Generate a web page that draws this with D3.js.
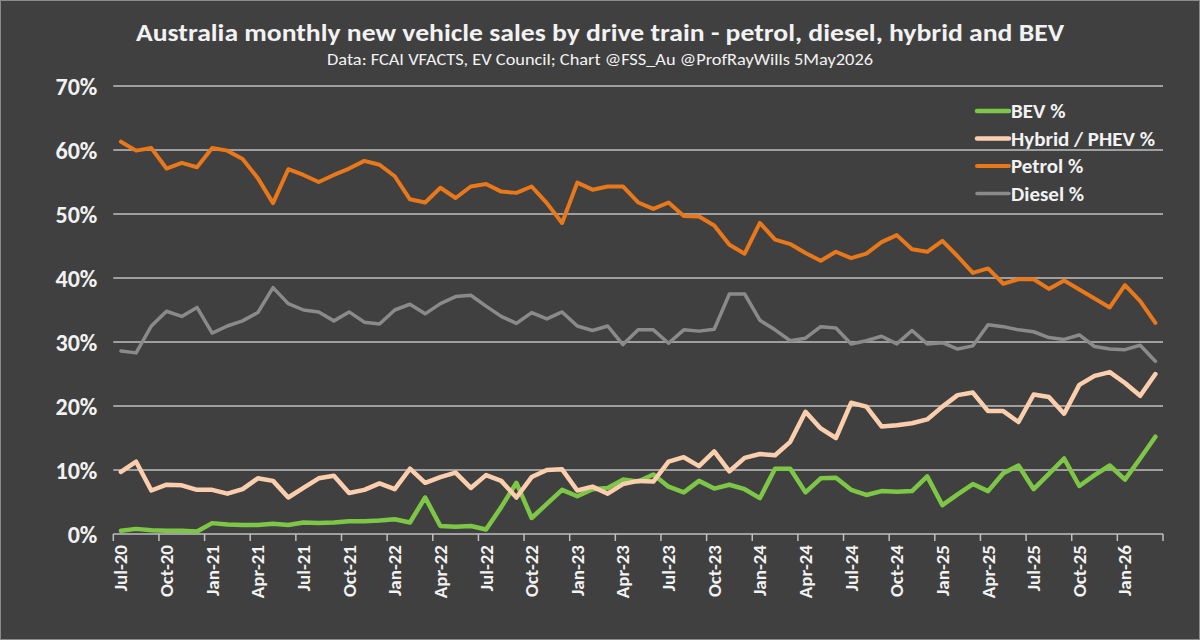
<!DOCTYPE html>
<html>
<head>
<meta charset="utf-8">
<script src="https://cdn.jsdelivr.net/npm/d3@7"></script>
<style>
  html, body { margin: 0; padding: 0; background: #404040; }
  svg { display: block; }
  text { font-family: Carlito, Calibri, "Liberation Sans Narrow", "Open Sans", sans-serif; fill: #f2f2f2; }
</style>
</head>
<body>
<svg id="chart" width="1200" height="640"></svg>
<script>
// monthly categories Jul-20 .. Mar-26
const months = d3.timeMonth.range(new Date(2020, 6, 1), new Date(2026, 3, 1));

// share of monthly sales, %
const bev = [0.5, 0.8, 0.6, 0.5, 0.5, 0.4, 1.7, 1.5, 1.4, 1.4, 1.6, 1.4, 1.8, 1.7, 1.8, 2.0, 2.0, 2.1,
  2.3, 1.8, 5.7, 1.25, 1.15, 1.25, 0.7, 4.2, 8.0, 2.5, 4.7, 6.9, 5.9, 7.0, 7.2, 8.5, 8.2, 9.3,
  7.4, 6.5, 8.3, 7.1, 7.7, 7.0, 5.6, 10.2, 10.2, 6.5, 8.7, 8.8, 6.9, 6.1, 6.7, 6.6, 6.7, 9.0,
  4.5, 6.2, 7.8, 6.7, 9.5, 10.7, 7.0, 9.4, 11.8, 7.5, 9.2, 10.7, 8.5, 11.8, 15.2];
const hybrid = [9.7, 11.3, 6.8, 7.7, 7.6, 6.9, 6.9, 6.3, 7.0, 8.7, 8.3, 5.7, 7.2, 8.7, 9.1, 6.4, 6.9, 7.9,
  7.0, 10.2, 8.0, 8.9, 9.6, 7.2, 9.2, 8.3, 5.7, 8.9, 10.0, 10.1, 6.8, 7.4, 6.3, 7.8, 8.3, 8.2,
  11.3, 12.0, 10.6, 12.9, 9.8, 11.9, 12.5, 12.3, 14.4, 19.1, 16.5, 15.0, 20.5, 19.9, 16.8, 17.0, 17.3, 17.9,
  19.9, 21.7, 22.1, 19.2, 19.2, 17.5, 21.8, 21.4, 18.8, 23.3, 24.7, 25.3, 23.6, 21.6, 25.0];
const petrol = [61.3, 59.9, 60.3, 57.1, 58.0, 57.3, 60.3, 59.9, 58.6, 55.6, 51.7, 57.0, 56.1, 55.0, 56.1, 57.1, 58.3, 57.7,
  55.9, 52.3, 51.8, 54.1, 52.5, 54.3, 54.7, 53.5, 53.3, 54.3, 51.7, 48.6, 54.9, 53.8, 54.3, 54.3, 51.8, 50.8,
  51.8, 49.7, 49.6, 48.2, 45.2, 43.8, 48.6, 46.0, 45.3, 43.9, 42.7, 44.1, 43.1, 43.8, 45.6, 46.7, 44.5, 44.1,
  45.8, 43.4, 40.8, 41.5, 39.1, 39.8, 39.8, 38.3, 39.6, 38.2, 36.8, 35.4, 38.9, 36.4, 33.0];
const diesel = [28.6, 28.3, 32.5, 34.8, 34.0, 35.4, 31.4, 32.5, 33.3, 34.6, 38.5, 36.0, 35.0, 34.7, 33.3, 34.7, 33.1, 32.8,
  35.0, 35.9, 34.4, 36.0, 37.1, 37.3, 35.6, 34.0, 32.9, 34.6, 33.6, 34.7, 32.5, 31.8, 32.5, 29.6, 31.9, 31.9,
  29.8, 31.9, 31.7, 32.0, 37.5, 37.5, 33.4, 31.9, 30.2, 30.6, 32.4, 32.2, 29.7, 30.2, 30.9, 29.7, 31.8, 29.7,
  29.9, 28.9, 29.4, 32.7, 32.4, 31.9, 31.6, 30.7, 30.4, 31.1, 29.3, 28.9, 28.8, 29.5, 27.0];

const seriesNames = ["BEV %", "Hybrid / PHEV %", "Petrol %", "Diesel %"];
const yTicks = [0, 10, 20, 30, 40, 50, 60, 70];

const svg = d3.select("#chart");
const W = 1200, H = 640;
const plot = {left: 113.3, right: 1163, top: 86, bottom: 534};

svg.append("rect")
    .attr("x", 0.5).attr("y", 0.5)
    .attr("width", W - 1).attr("height", H - 1)
    .attr("fill", "#404040")
    .attr("stroke", "#8a8a8a");

const x = d3.scaleBand()
    .domain(d3.range(months.length))
    .range([plot.left, plot.right])
    .padding(0);
const y = d3.scaleLinear()
    .domain([0, 70])
    .range([plot.bottom, plot.top]);
const cx = i => x(i) + x.bandwidth() / 2;

// titles
svg.append("text")
    .attr("x", 600).attr("y", 41)
    .attr("text-anchor", "middle")
    .attr("textLength", 928).attr("lengthAdjust", "spacingAndGlyphs")
    .style("font-size", "24px").style("font-weight", "bold")
    .text("Australia monthly new vehicle sales by drive train - petrol, diesel, hybrid and BEV");
svg.append("text")
    .attr("x", 600).attr("y", 65)
    .attr("text-anchor", "middle")
    .attr("textLength", 546).attr("lengthAdjust", "spacingAndGlyphs")
    .style("font-size", "16px")
    .text("Data: FCAI VFACTS, EV Council; Chart @FSS_Au @ProfRayWills 5May2026");

// gridlines
svg.append("g")
    .selectAll("line")
    .data(yTicks)
    .join("line")
    .attr("x1", plot.left).attr("x2", plot.right)
    .attr("y1", d => y(d)).attr("y2", d => y(d))
    .attr("stroke", "#bfbfbf")
    .attr("stroke-width", 1.5);

// y axis labels
const yAxis = svg.append("g")
    .attr("transform", `translate(${plot.left - 16},0)`)
    .call(d3.axisLeft(y).tickValues(yTicks).tickSize(0).tickFormat(d => d + "%"));
yAxis.select(".domain").remove();
yAxis.selectAll("text")
    .attr("x", 0)
    .attr("dy", "0.35em")
    .attr("fill", "#f2f2f2")
    .style("font-size", "24px").style("font-weight", "bold")
    .style("font-family", "Carlito, Calibri, 'Liberation Sans Narrow', 'Open Sans', sans-serif");

// x axis: tick marks every 3 months between categories, labels on categories
const tickIdx = d3.range(0, months.length + 1, 3);
svg.append("g")
    .selectAll("line")
    .data(tickIdx)
    .join("line")
    .attr("x1", d => d < months.length ? x(d) : plot.right)
    .attr("x2", d => d < months.length ? x(d) : plot.right)
    .attr("y1", plot.bottom).attr("y2", plot.bottom + 7)
    .attr("stroke", "#bfbfbf")
    .attr("stroke-width", 1.5);

const fmt = d3.timeFormat("%b-%y");
svg.append("g")
    .selectAll("text")
    .data(d3.range(0, months.length, 3))
    .join("text")
    .attr("transform", d => `translate(${cx(d) + 6.5},${plot.bottom + 11}) rotate(-90)`)
    .attr("text-anchor", "end")
    .style("font-size", "19px").style("font-weight", "bold")
    .text(d => fmt(months[d]));

// lines
const series = [
  {name: seriesNames[0], values: bev, color: "#7dc646", width: 4.5},
  {name: seriesNames[1], values: hybrid, color: "#fbcfae", width: 4.5},
  {name: seriesNames[2], values: petrol, color: "#e8781a", width: 4},
  {name: seriesNames[3], values: diesel, color: "#8a8a8a", width: 3.5}
];
const line = d3.line()
    .x((d, i) => cx(i))
    .y(d => y(d));

svg.append("g")
    .selectAll("path")
    .data(series)
    .join("path")
    .attr("d", d => line(d.values))
    .attr("fill", "none")
    .attr("stroke", d => d.color)
    .attr("stroke-width", d => d.width)
    .attr("stroke-linejoin", "round")
    .attr("stroke-linecap", "round");

// legend
const legend = svg.append("g")
    .selectAll("g")
    .data(series)
    .join("g")
    .attr("transform", (d, i) => `translate(977,${111 + i * 27.5})`);
legend.append("line")
    .attr("x1", 0).attr("x2", 32)
    .attr("stroke", d => d.color)
    .attr("stroke-width", d => d.width)
    .attr("stroke-linecap", "round");
legend.append("text")
    .attr("x", 34)
    .attr("dy", "0.35em")
    .style("font-size", "21px").style("font-weight", "bold")
    .text(d => d.name);
</script>
</body>
</html>
